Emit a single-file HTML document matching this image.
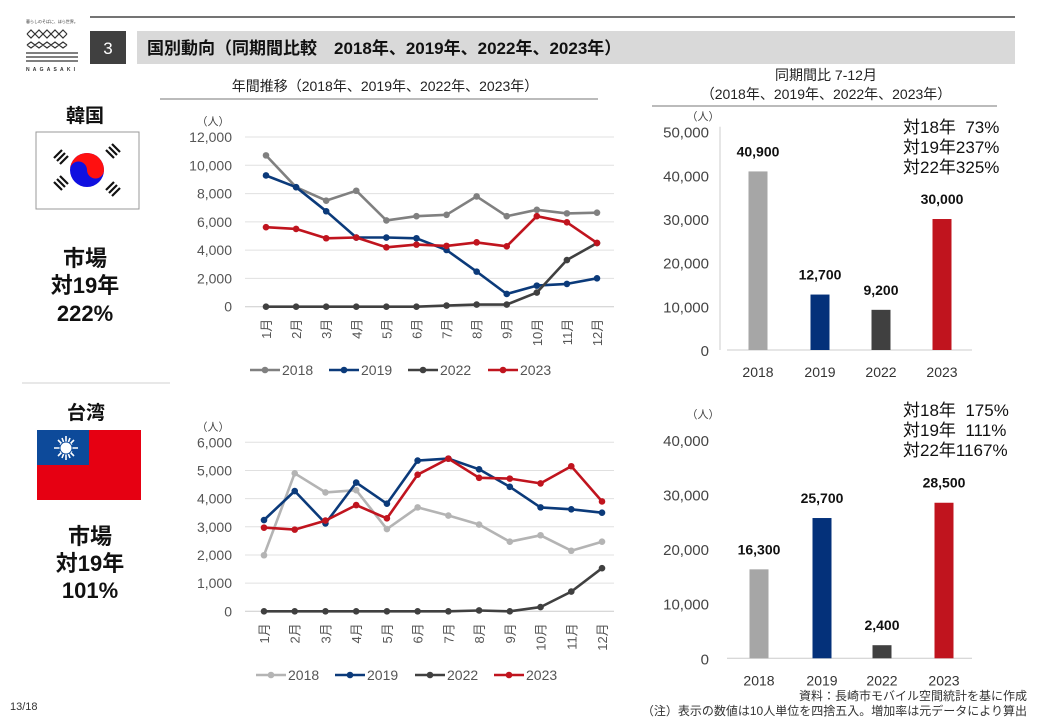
<!DOCTYPE html>
<html><head><meta charset="utf-8">
<style>
html,body{margin:0;padding:0;background:#fff;}
body{width:1040px;height:720px;overflow:hidden;position:relative;font-family:"Liberation Sans","Noto Sans CJK JP",sans-serif;}
svg text{font-family:"Liberation Sans","Noto Sans CJK JP",sans-serif;}
</style></head>
<body>
<svg id="s" width="1040" height="720" viewBox="0 0 1040 720" xmlns="http://www.w3.org/2000/svg">
<line x1="90" y1="17" x2="1015" y2="17" stroke="#222" stroke-width="1.2"/>
<g stroke="#333" fill="none" stroke-width="1.2">
<text x="26" y="23" font-size="4" fill="#333" stroke="none">暮らしのそばに、ほら世界。</text>
<path d="M27 34 l4-4 4 4 4-4 4 4 4-4 4 4 4-4 4 4 4-4 4 4 M27 34 l4 4 4-4 4 4 4-4 4 4 4-4 4 4 4-4 4 4 4-4 M27 45 l4-3 4 3 4-3 4 3 4-3 4 3 4-3 4 3 4-3 4 3 M27 45 l4 3 4-3 4 3 4-3 4 3 4-3 4 3 4-3 4 3 4-3"/>
<line x1="26" y1="53" x2="78" y2="53"/><line x1="26" y1="57" x2="78" y2="57"/><line x1="26" y1="61" x2="78" y2="61"/>
</g>
<text x="26" y="71" font-size="5" font-weight="bold" fill="#333" letter-spacing="3.2">NAGASAKI</text>
<rect x="90" y="31" width="36" height="33" fill="#404040"/>
<text x="108" y="54" font-size="17" fill="#fff" text-anchor="middle">3</text>
<rect x="137" y="31" width="878" height="33" fill="#d9d9d9"/>
<text x="147" y="54" font-size="17" font-weight="bold" fill="#111">国別動向（同期間比較　2018年、2019年、2022年、2023年）</text>

<text x="385" y="91" font-size="14" fill="#222" text-anchor="middle">年間推移（2018年、2019年、2022年、2023年）</text>
<line x1="160" y1="99" x2="598" y2="99" stroke="#777"/>
<text x="826" y="80" font-size="14" fill="#222" text-anchor="middle">同期間比 7-12月</text>
<text x="826" y="99" font-size="14" fill="#222" text-anchor="middle">（2018年、2019年、2022年、2023年）</text>
<line x1="652" y1="106" x2="997" y2="106" stroke="#777"/>

<line x1="22" y1="383" x2="170" y2="383" stroke="#d0d0d0"/>

<text x="85" y="122" font-size="19" font-weight="bold" text-anchor="middle" fill="#111">韓国</text>
<rect x="36" y="132" width="103" height="77" fill="#fff" stroke="#999"/>
<circle cx="87" cy="170" r="17" fill="#1010e0"/>
<path d="M70 170 a17 17 0 0 1 34 0 a8.5 8.5 0 0 1 -17 0 a8.5 8.5 0 0 0 -17 0z" fill="#ff1010"/>
<g stroke="#111" stroke-width="2.2">
<path d="M54 158 l8-8 M57 161 l8-8 M60 164 l8-8"/>
<path d="M106 150 l8 8 M109 147 l8 8 M112 144 l8 8"/>
<path d="M54 182 l8 8 M57 179 l8 8 M60 176 l8 8"/>
<path d="M106 190 l8-8 M109 193 l8-8 M112 196 l8-8"/>
</g>
<text x="85" y="266" font-size="22" font-weight="bold" text-anchor="middle" fill="#111">市場</text>
<text x="85" y="293" font-size="22" font-weight="bold" text-anchor="middle" fill="#111">対19年</text>
<text x="85" y="321" font-size="22" font-weight="bold" text-anchor="middle" fill="#111">222%</text>

<text x="86" y="419" font-size="19" font-weight="bold" text-anchor="middle" fill="#111">台湾</text>
<rect x="37" y="430" width="104" height="70" fill="#e60012"/>
<rect x="37" y="430" width="52" height="35" fill="#0d4a9a"/>
<g stroke="#fff" stroke-width="1.6"><path d="M54 448 h24 M66 436 v24 M58 440 l16 16 M74 440 l-16 16 M60 444 l12 8 M60 452 l12 -8 M62 438 l8 20 M70 438 l-8 20"/></g>
<circle cx="66" cy="448" r="6" fill="#fff" stroke="#0d4a9a" stroke-width="1"/>
<text x="90" y="544" font-size="22" font-weight="bold" text-anchor="middle" fill="#111">市場</text>
<text x="90" y="571" font-size="22" font-weight="bold" text-anchor="middle" fill="#111">対19年</text>
<text x="90" y="598" font-size="22" font-weight="bold" text-anchor="middle" fill="#111">101%</text>

<text x="10" y="710" font-size="11" fill="#333">13/18</text>
<text x="1027" y="700" font-size="12" fill="#333" text-anchor="end">資料：長崎市モバイル空間統計を基に作成</text>
<text x="1027" y="715" font-size="12" fill="#333" text-anchor="end">（注）表示の数値は10人単位を四捨五入。増加率は元データにより算出</text>

<g id="dyn"></g>
</svg>
<script>
var g=document.getElementById("dyn"),h="";
function T(x,y,s,o){h+='<text x="'+x+'" y="'+y+'" '+(o||'')+'>'+s+'</text>';}
function lineChart(y0,ytop,maxv,step,x1,x12,data,cols,legY,legXs){
  var sc=(y0-ytop)/maxv;
  T(213,y0-(y0-ytop)-12,"（人）",'font-size="11" fill="#444" text-anchor="middle"');
  for(var v=0;v<=maxv;v+=step){var y=y0-v*sc;
    h+='<line x1="245" y1="'+y+'" x2="614" y2="'+y+'" stroke="'+(v==0?'#ccc':'#e0e0e0')+'"/>';
    T(232,y+5,v.toLocaleString('en-US'),'font-size="14" fill="#555" text-anchor="end"');}
  var dx=(x12-x1)/11;
  for(var i=0;i<12;i++){var x=x1+dx*i;T(0,0,(i+1)+"月",'font-size="13" fill="#555" text-anchor="end" transform="translate('+(x+5)+','+(y0+12)+') rotate(-90)"');}
  data.forEach(function(d,k){var p=d.map(function(v,i){return (x1+dx*i).toFixed(1)+","+(y0-v*sc).toFixed(1)}).join(" ");
    h+='<polyline points="'+p+'" fill="none" stroke="'+cols[k]+'" stroke-width="2.6" stroke-linejoin="round"/>';
    d.forEach(function(v,i){h+='<circle cx="'+(x1+dx*i)+'" cy="'+(y0-v*sc)+'" r="3.3" fill="'+cols[k]+'"/>';});});
  var names=["2018","2019","2022","2023"];
  names.forEach(function(n,k){var x=legXs[k];h+='<line x1="'+x+'" y1="'+legY+'" x2="'+(x+30)+'" y2="'+legY+'" stroke="'+cols[k]+'" stroke-width="2.6"/><circle cx="'+(x+15)+'" cy="'+legY+'" r="3.3" fill="'+cols[k]+'"/>';
    T(x+32,legY+5,n,'font-size="14" fill="#555"');});
}
lineChart(306.7,137,12000,2000,266,597,[
[10700,8450,7500,8200,6100,6400,6500,7800,6400,6850,6600,6650],
[9280,8450,6750,4890,4890,4840,4010,2480,900,1490,1610,2010],
[0,0,0,0,0,0,80,150,150,1000,3300,4500],
[5620,5500,4840,4890,4200,4390,4300,4550,4270,6400,5970,4510]],
["#808080","#0b3a7a","#404040","#c0141e"],370,[250,329,408,488]);
lineChart(611.3,442.3,6000,1000,264,602,[
[1990,4900,4220,4300,2920,3690,3400,3080,2470,2700,2150,2470],
[3240,4270,3120,4570,3820,5350,5420,5040,4420,3690,3620,3500],
[0,0,0,0,0,0,0,30,0,150,700,1530],
[2970,2900,3220,3770,3300,4850,5420,4740,4710,4540,5150,3900]],
["#b4b4b4","#0b3a7a","#404040","#c0141e"],675,[256,335,415,494]);
function barChart(y0,sc,maxv,step,cx,vals,labs,axisLine,ppl){
  var cols=["#a6a6a6","#04317a","#404040","#c0141e"];
  if(axisLine)h+='<line x1="720" y1="'+(y0-maxv*sc-5)+'" x2="720" y2="'+y0+'" stroke="#ccc"/>';
  h+='<line x1="727" y1="'+y0+'" x2="972" y2="'+y0+'" stroke="#ccc"/>';
  for(var v=0;v<=maxv;v+=step)T(709,y0-v*sc+6,v.toLocaleString('en-US'),'font-size="15" fill="#444" text-anchor="end"');
  T(ppl[0],ppl[1],"（人）",'font-size="11" fill="#444" text-anchor="middle"');
  vals.forEach(function(v,i){var y=y0-v*sc;h+='<rect x="'+(cx[i]-9.5)+'" y="'+y+'" width="19" height="'+(v*sc)+'" fill="'+cols[i]+'"/>';
    T(cx[i],y-15,labs[i],'font-size="14" font-weight="bold" fill="#111" text-anchor="middle"');
    T(cx[i],y0+27,["2018","2019","2022","2023"][i],'font-size="14" fill="#333" text-anchor="middle"');});
}
barChart(350,0.004366,50000,10000,[758,820,881,942],[40900,12700,9200,30000],["40,900","12,700","9,200","30,000"],true,[703,120]);
barChart(658.3,0.005458,40000,10000,[759,822,882,944],[16300,25700,2400,28500],["16,300","25,700","2,400","28,500"],false,[703,418]);
[["対18年  73%",133],["対19年237%",153],["対22年325%",173]].forEach(function(a){T(903,a[1],a[0],'font-size="17" fill="#111" xml:space="preserve"');});
[["対18年  175%",416],["対19年  111%",436],["対22年1167%",456]].forEach(function(a){T(903,a[1],a[0],'font-size="17" fill="#111" xml:space="preserve"');});
g.innerHTML=h;
</script>
</body></html>
